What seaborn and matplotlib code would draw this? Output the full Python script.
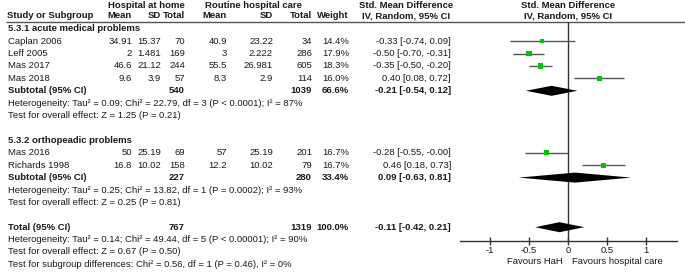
import seaborn as sns
import matplotlib.pyplot as plt
import pandas as pd
from matplotlib.patches import Polygon

# study level data
study_names = ["Caplan 2006", "Leff 2005", "Mas 2017", "Mas 2018", "Mas 2016", "Richards 1998"]
study_group = [0, 0, 0, 0, 1, 1]
hah_mean = ["34.91", "2", "46.6", "9.6", "50", "16.8"]
hah_sd = ["15.37", "1.481", "21.12", "3.9", "25.19", "10.02"]
hah_n = [70, 169, 244, 57, 69, 158]
rhc_mean = ["40.9", "3", "55.5", "8.3", "57", "12.2"]
rhc_sd = ["23.22", "2.222", "26.981", "2.9", "25.19", "10.02"]
rhc_n = [34, 286, 605, 114, 201, 79]
weights = [14.4, 17.9, 18.3, 16.0, 16.7, 16.7]
smd = [-0.33, -0.50, -0.35, 0.40, -0.28, 0.46]
ci_lo = [-0.74, -0.70, -0.50, 0.08, -0.55, 0.18]
ci_hi = [0.09, -0.31, -0.20, 0.72, -0.0, 0.73]

# subgroups
group_titles = ["5.3.1 acute medical problems", "5.3.2 orthopeadic problems"]
sub_n_hah = [540, 227]
sub_n_rhc = [1039, 280]
sub_weight = [66.6, 33.4]
sub_smd = [-0.21, 0.09]
sub_lo = [-0.54, -0.63]
sub_hi = [0.12, 0.81]
sub_het = ["Heterogeneity: Tau\u00b2 = 0.09; Chi\u00b2 = 22.79, df = 3 (P < 0.0001); I\u00b2 = 87%",
           "Heterogeneity: Tau\u00b2 = 0.25; Chi\u00b2 = 13.82, df = 1 (P = 0.0002); I\u00b2 = 93%"]
sub_test = ["Test for overall effect: Z = 1.25 (P = 0.21)",
            "Test for overall effect: Z = 0.25 (P = 0.81)"]

# overall
total_n_hah = 767
total_n_rhc = 1319
total_weight = 100.0
total_smd = -0.11
total_lo = -0.42
total_hi = 0.21
total_notes = ["Heterogeneity: Tau\u00b2 = 0.14; Chi\u00b2 = 49.44, df = 5 (P < 0.00001); I\u00b2 = 90%",
               "Test for overall effect: Z = 0.67 (P = 0.50)",
               "Test for subgroup differences: Chi\u00b2 = 0.56, df = 1 (P = 0.46), I\u00b2 = 0%"]

x_ticks = [-1, -0.5, 0, 0.5, 1]
x_ticklabels = ["-1", "-0.5", "0", "0.5", "1"]
favours_left = "Favours HaH"
favours_right = "Favours hospital care"

sns.set_style("white")
plt.rcParams["font.family"] = ["Liberation Sans", "DejaVu Sans"]
TXT = "#1a1a1a"
FS, FS_BOLD = 6.8, 6.8

fig = plt.figure(figsize=(6.85, 2.72), dpi=100)
tab = fig.add_axes([0, 0, 1, 1])
tab.set_xlim(0, 685)
tab.set_ylim(272, 0)
tab.axis("off")

# row layout (pixel rows)
y0, step = 28.8, 12.4
def row(i):
    return y0 + i * step

group_rows = [0, 9]
study_rows = [1, 2, 3, 4, 10, 11]
sub_rows = [5, 12]
total_row = 16

# column right edges
col_x = dict(mh=132, sh=161, nh=185, mr=227, sr=273, nr=312, w=349, ci=451)
left_x = 8

def put(x, y, s, ha="right", bold=False):
    tab.text(x, y, s, ha=ha, va="center", color=TXT,
             fontsize=FS_BOLD if bold else FS,
             fontweight="bold" if bold else "normal")

def ci_text(e, lo, hi):
    return f"{e:.2f} [{lo:.2f}, {hi:.2f}]"

# headers
put(146, 5, "Hospital at home", ha="center", bold=True)
put(253, 5, "Routine hospital care", ha="center", bold=True)
put(406, 5, "Std. Mean Difference", ha="center", bold=True)
put(568, 5, "Std. Mean Difference", ha="center", bold=True)
put(left_x - 1, 16, "Study or Subgroup", ha="left", bold=True)
for key, lab in [("mh", "Mean"), ("sh", "SD"), ("nh", "Total"), ("mr", "Mean"),
                 ("sr", "SD"), ("nr", "Total"), ("w", "Weight")]:
    put(col_x[key], 16, lab, bold=True)
put(406, 16, "IV, Random, 95% CI", ha="center", bold=True)
put(568, 16, "IV, Random, 95% CI", ha="center", bold=True)
tab.hlines(21.5, 6, 685, color="#555555", lw=1)

# groups
for g in range(2):
    put(left_x, row(group_rows[g]), group_titles[g], ha="left", bold=True)
    sr = sub_rows[g]
    put(left_x, row(sr), "Subtotal (95% CI)", ha="left", bold=True)
    put(col_x["nh"], row(sr), str(sub_n_hah[g]), bold=True)
    put(col_x["nr"], row(sr), str(sub_n_rhc[g]), bold=True)
    put(col_x["w"], row(sr), f"{sub_weight[g]:.1f}%", bold=True)
    put(col_x["ci"], row(sr), ci_text(sub_smd[g], sub_lo[g], sub_hi[g]), bold=True)
    put(left_x, row(sr + 1), sub_het[g], ha="left")
    put(left_x, row(sr + 2), sub_test[g], ha="left")

for i, name in enumerate(study_names):
    y = row(study_rows[i])
    put(left_x, y, name, ha="left")
    put(col_x["mh"], y, hah_mean[i])
    put(col_x["sh"], y, hah_sd[i])
    put(col_x["nh"], y, str(hah_n[i]))
    put(col_x["mr"], y, rhc_mean[i])
    put(col_x["sr"], y, rhc_sd[i])
    put(col_x["nr"], y, str(rhc_n[i]))
    put(col_x["w"], y, f"{weights[i]:.1f}%")
    put(col_x["ci"], y, ci_text(smd[i], ci_lo[i], ci_hi[i]))

put(left_x, row(total_row), "Total (95% CI)", ha="left", bold=True)
put(col_x["nh"], row(total_row), str(total_n_hah), bold=True)
put(col_x["nr"], row(total_row), str(total_n_rhc), bold=True)
put(col_x["w"], row(total_row), f"{total_weight:.1f}%", bold=True)
put(col_x["ci"], row(total_row), ci_text(total_smd, total_lo, total_hi), bold=True)
for k, note in enumerate(total_notes):
    put(left_x, row(total_row + 1 + k), note, ha="left")

# forest panel
x0_px, x1_px, zero_px, unit_px = 460, 677, 568, 78
ax = fig.add_axes([x0_px / 685, 0, (x1_px - x0_px) / 685, 1])
ax.set_facecolor("none")
ax.set_xlim((x0_px - zero_px) / unit_px, (x1_px - zero_px) / unit_px)
ax.set_ylim(272, 0)
axis_y = 240.7

df = pd.DataFrame({"smd": smd, "lo": ci_lo, "hi": ci_hi, "weight": weights,
                   "y": [row(r) for r in study_rows]})
ax.vlines(0, 21.5, axis_y, color="#333333", lw=1, zorder=1)
ax.hlines(df["y"], df["lo"], df["hi"], color="#555555", lw=1, zorder=2)
sns.scatterplot(data=df, x="smd", y="y", size="weight", sizes=(10, 15), marker="s",
                color="#00c400", linewidth=0, legend=False, ax=ax, zorder=3)

def diamond(e, lo, hi, y, h=5):
    ax.add_patch(Polygon([(lo, y), (e, y - h), (hi, y), (e, y + h)],
                         closed=True, color="black", lw=0, zorder=4))

for g in range(2):
    diamond(sub_smd[g], sub_lo[g], sub_hi[g], row(sub_rows[g]))
diamond(total_smd, total_lo, total_hi, row(total_row))

for s in ["top", "left", "right"]:
    ax.spines[s].set_visible(False)
ax.spines["bottom"].set_position(("data", axis_y))
ax.spines["bottom"].set_color("#333333")
ax.spines["bottom"].set_linewidth(1)
ax.set_xticks(x_ticks)
ax.set_xticklabels(x_ticklabels)
ax.tick_params(axis="x", direction="inout", length=6, width=1, color="#333333",
               labelsize=FS, labelcolor=TXT, pad=1, bottom=True)
ax.set_yticks([])
ax.set_xlabel("")
ax.set_ylabel("")
ax.text(-0.07, 261, favours_left, ha="right", va="center", color=TXT, fontsize=FS)
ax.text(0.05, 261, favours_right, ha="left", va="center", color=TXT, fontsize=FS)

fig.savefig("out.png", dpi=100)
